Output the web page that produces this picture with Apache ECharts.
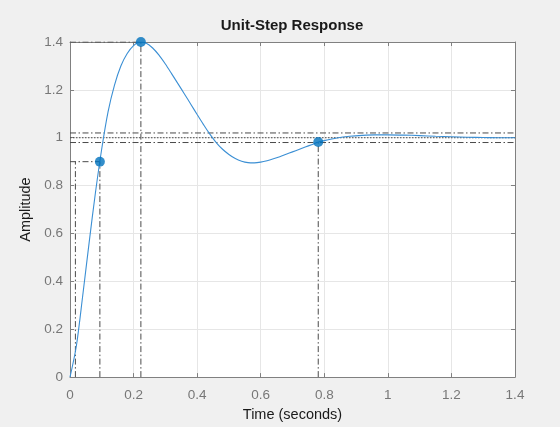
<!DOCTYPE html>
<html>
<head>
<meta charset="utf-8">
<script src="https://cdn.jsdelivr.net/npm/echarts@6/dist/echarts.min.js"></script>
<style>html,body{margin:0;padding:0;background:#f0f0f0;}#c{width:560px;height:427px;}</style>
</head>
<body>
<div id="c"></div>
<script>
// Step response samples
const time      = [0, 0.02, 0.04, 0.06, 0.08, 0.10, 0.12, 0.14, 0.16, 0.18, 0.20, 0.22, 0.24, 0.26, 0.28, 0.30, 0.32, 0.34, 0.36, 0.38, 0.40, 0.42, 0.44, 0.46, 0.48, 0.50, 0.52, 0.54, 0.56, 0.58, 0.60, 0.62, 0.64, 0.66, 0.68, 0.70, 0.72, 0.74, 0.76, 0.78, 0.80, 0.84, 0.88, 0.92, 0.96, 1.00, 1.05, 1.10, 1.15, 1.20, 1.25, 1.30, 1.35, 1.40];
const amplitude = [0, 0.13, 0.34, 0.56, 0.77, 0.955, 1.11, 1.22, 1.30, 1.352, 1.385, 1.40, 1.395, 1.375, 1.345, 1.308, 1.267, 1.225, 1.183, 1.14, 1.097, 1.055, 1.015, 0.98, 0.952, 0.93, 0.913, 0.902, 0.896, 0.895, 0.898, 0.904, 0.912, 0.921, 0.931, 0.941, 0.951, 0.961, 0.971, 0.981, 0.988, 0.999, 1.006, 1.010, 1.012, 1.012, 1.011, 1.009, 1.006, 1.004, 1.002, 1.001, 1.0, 1.0];

// Characteristics
const riseStartTime = 0.017;
const riseEndTime   = 0.094;
const riseLevel     = 0.9;
const peakTime      = 0.223;
const peakValue     = 1.4;
const settleTime    = 0.781;
const settleValue   = 0.982;
const finalValue    = 1.0;
const bandHigh      = 1.02;
const bandLow       = 0.98;

// Axis ticks
const xTicks = [0, 0.2, 0.4, 0.6, 0.8, 1, 1.2, 1.4];
const yTicks = [0, 0.2, 0.4, 0.6, 0.8, 1, 1.2, 1.4];

const curve = time.map((t, i) => [t, amplitude[i]]);
const markers = [[riseEndTime, riseLevel], [peakTime, peakValue], [settleTime, settleValue]];
const xMin = xTicks[0], xMax = xTicks[xTicks.length - 1];
const yMin = yTicks[0], yMax = yTicks[yTicks.length - 1];

const dashDot = [6, 2.5, 1.5, 2.5];
const refColor = '#4a4a4a';
function seg(pts, type) {
  return {
    type: 'line', data: pts, symbol: 'none', silent: true, z: 1,
    lineStyle: { color: refColor, width: 1, type: type || dashDot },
    animation: false
  };
}

const axisColor = '#808080';
const font = 'Liberation Sans, Arial, Helvetica, sans-serif';

const chart = echarts.init(document.getElementById('c'), null, { renderer: 'canvas' });
chart.setOption({
  backgroundColor: '#f0f0f0',
  animation: false,
  title: {
    text: 'Unit-Step Response',
    left: 292, top: 18, padding: 0,
    textAlign: 'center',
    textStyle: { fontFamily: font, fontSize: 15, fontWeight: 'bold', color: '#1a1a1a' }
  },
  grid: { left: 70, right: 45, top: 42, bottom: 46, show: true, backgroundColor: '#ffffff', borderWidth: 0 },
  xAxis: [{
    type: 'value', min: xMin, max: xMax, interval: 0.2,
    name: 'Time (seconds)', nameLocation: 'middle', nameGap: 28,
    nameTextStyle: { fontFamily: font, fontSize: 14.5, color: '#1a1a1a' },
    axisLine: { show: true, onZero: false, lineStyle: { color: axisColor, width: 1 } },
    axisTick: { show: true, inside: true, length: 4, lineStyle: { color: axisColor } },
    axisLabel: { fontFamily: font, fontSize: 13.5, color: '#777777', margin: 11,
      formatter: v => String(parseFloat(v.toFixed(1))) },
    splitLine: { show: true, lineStyle: { color: '#e6e6e6', width: 1 } }
  }, {
    type: 'value', min: xMin, max: xMax, interval: 0.2, position: 'top',
    axisLine: { show: true, onZero: false, lineStyle: { color: axisColor, width: 1 } },
    axisTick: { show: true, inside: true, length: 4, lineStyle: { color: axisColor } },
    axisLabel: { show: false }, splitLine: { show: false }
  }],
  yAxis: [{
    type: 'value', min: yMin, max: yMax, interval: 0.2,
    name: 'Amplitude', nameLocation: 'middle', nameGap: 27, nameRotate: 90,
    nameTextStyle: { fontFamily: font, fontSize: 14.5, color: '#1a1a1a' },
    axisLine: { show: true, onZero: false, lineStyle: { color: axisColor, width: 1 } },
    axisTick: { show: true, inside: true, length: 4, lineStyle: { color: axisColor } },
    axisLabel: { fontFamily: font, fontSize: 13.5, color: '#777777', margin: 7,
      formatter: v => String(parseFloat(v.toFixed(1))) },
    splitLine: { show: true, lineStyle: { color: '#e6e6e6', width: 1 } }
  }, {
    type: 'value', min: yMin, max: yMax, interval: 0.2, position: 'right',
    axisLine: { show: true, onZero: false, lineStyle: { color: axisColor, width: 1 } },
    axisTick: { show: true, inside: true, length: 4, lineStyle: { color: axisColor } },
    axisLabel: { show: false }, splitLine: { show: false }
  }],
  series: [
    // rise time
    seg([[xMin, riseLevel], [riseEndTime, riseLevel]]),
    seg([[riseStartTime, yMin], [riseStartTime, riseLevel]]),
    seg([[riseEndTime, yMin], [riseEndTime, riseLevel]]),
    // peak
    seg([[xMin, peakValue], [peakTime, peakValue]]),
    seg([[peakTime, yMin], [peakTime, peakValue]]),
    // settling band
    seg([[xMin, bandHigh], [xMax, bandHigh]]),
    seg([[xMin, bandLow], [xMax, bandLow]]),
    seg([[xMin, finalValue], [xMax, finalValue]], [1.5, 1.5]),
    seg([[settleTime, yMin], [settleTime, settleValue]]),
    {
      type: 'line', data: curve, symbol: 'none', smooth: 0.3, z: 3,
      lineStyle: { color: '#3b8fd4', width: 1.1 }
    },
    {
      type: 'scatter', data: markers, symbol: 'circle', symbolSize: 10, z: 4,
      itemStyle: { color: '#0072BD' }
    }
  ]
});
</script>
</body>
</html>
